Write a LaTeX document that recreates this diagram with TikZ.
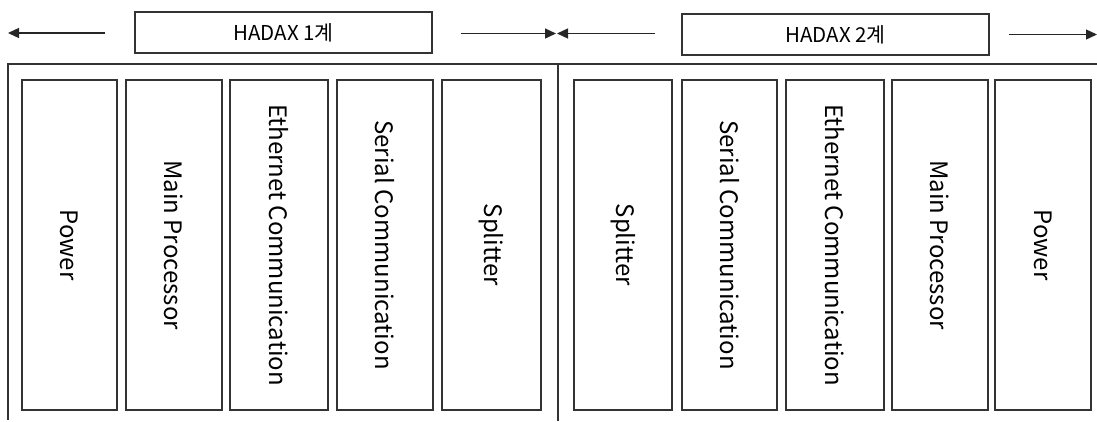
\documentclass[tikz,border=0pt]{standalone}
\usepackage{fontspec}
\setmainfont{Noto Sans CJK KR}
\usetikzlibrary{arrows.meta}
\begin{document}
\begin{tikzpicture}[x=1pt,y=-1pt,
  ln/.style={draw=black!80,line width=1.1pt},
  titlebox/.style={ln,rectangle,inner sep=0pt,font=\fontsize{20.5}{24}\selectfont},
  modbox/.style={ln,rectangle,inner sep=0pt,rotate=-90,minimum width=330pt,font=\fontsize{24}{27}\selectfont},
  arr/.style={draw=black!85,line width=1.3pt,-{Triangle[length=11pt,width=10pt]}}
]
\useasboundingbox (0,0) rectangle (1097,421);
% frame
\draw[ln] (8,420) -- (8,64) -- (1097,64);
\draw[ln] (558,64) -- (558,421);
% title boxes
\node[titlebox,minimum width=297pt,minimum height=41pt] (t1) at (283.5,32.5) {HADAX 1계};
\node[titlebox,minimum width=307pt,minimum height=41pt] (t2) at (835.5,34.5) {HADAX 2계};
% arrows
\coordinate (a1s) at (105,33); \coordinate (a1e) at (8,33);
\coordinate (a2s) at (461,33.5); \coordinate (a2e) at (556,33.5);
\coordinate (a3s) at (655,33.5); \coordinate (a3e) at (557,33.5);
\coordinate (a4s) at (1009,34.5); \coordinate (a4e) at (1097,34.5);
\draw[arr] (a1s) -- (a1e);
\draw[arr] (a2s) -- (a2e);
\draw[arr] (a3s) -- (a3e);
\draw[arr] (a4s) -- (a4e);
% left group
\node[modbox,minimum height=95pt] (l1) at (69.5,245) {Power};
\node[modbox,minimum height=96pt] (l2) at (174,245) {Main Processor};
\node[modbox,minimum height=98pt] (l3) at (279,245) {Ethernet Communication};
\node[modbox,minimum height=96pt] (l4) at (385,245) {Serial Communication};
\node[modbox,minimum height=99pt] (l5) at (491.5,245) {Splitter};
% right group
\node[modbox,minimum height=98pt] (r1) at (623,245) {Splitter};
\node[modbox,minimum height=95pt] (r2) at (729.5,245) {Serial Communication};
\node[modbox,minimum height=98pt] (r3) at (835,245) {Ethernet Communication};
\node[modbox,minimum height=96pt] (r4) at (940,245) {Main Processor};
\node[modbox,minimum height=96pt] (r5) at (1043,245) {Power};
\end{tikzpicture}
\end{document}
